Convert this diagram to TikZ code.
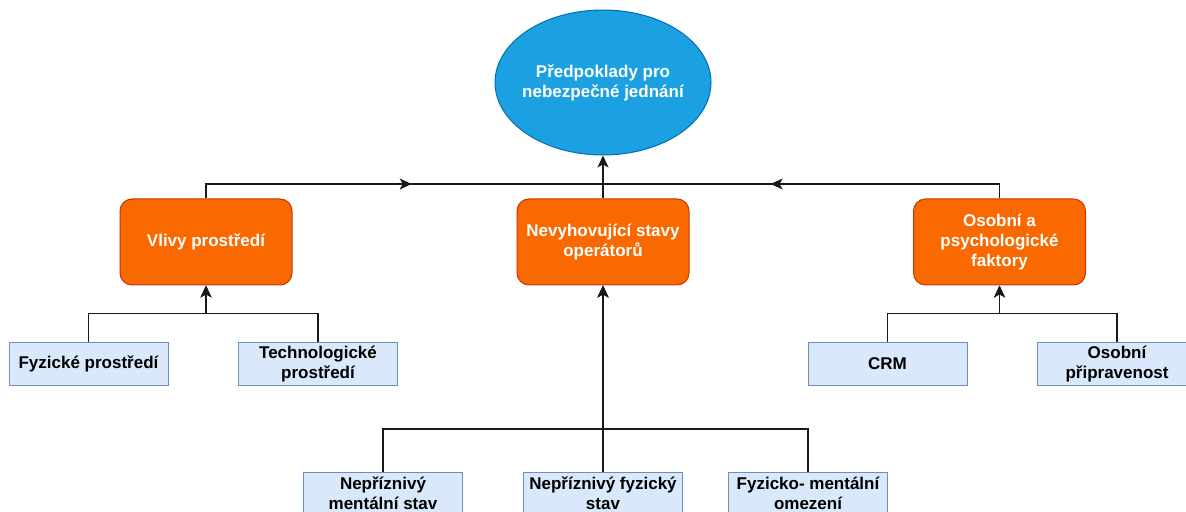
\documentclass[tikz,border=0pt]{standalone}
\usepackage{fontspec}
\setmainfont{Liberation Sans}
\usetikzlibrary{arrows.meta,decorations.markings,shapes.geometric}
\definecolor{orfill}{HTML}{FA6800}
\definecolor{ordraw}{HTML}{C73500}
\definecolor{blfill}{HTML}{DAE8FC}
\definecolor{bldraw}{HTML}{6C8EBF}
\definecolor{elfill}{HTML}{1BA1E2}
\definecolor{eldraw}{HTML}{006EAF}
\tikzset{
  base/.style={font=\fontsize{8.5pt}{10pt}\selectfont\bfseries, align=center, inner sep=0pt, line width=0.5pt},
  orbox/.style={base, rectangle, rounded corners=6pt, fill=orfill, draw=ordraw, text=white, minimum width=86pt, minimum height=43pt},
  blbox/.style={base, rectangle, fill=blfill, draw=bldraw, text=black, minimum width=79.5pt, minimum height=21.5pt},
  topell/.style={base, ellipse, fill=elfill, draw=eldraw, minimum width=108pt, minimum height=72.5pt},
  eltext/.style={base, text=white},
  conn/.style={line width=0.6pt, draw=black!90},
  arr/.style={conn, -{Stealth[length=6pt,width=5.5pt,inset=1.6pt]}},
  midarr/.style={conn, postaction={decorate}, decoration={markings, mark=at position #1 with {\arrow{Stealth[length=6pt,width=5.5pt,inset=1.6pt]}}}}
}
\begin{document}
\begin{tikzpicture}[x=0.5pt,y=-0.5pt]
\useasboundingbox (0,0) rectangle (1186,512);
\clip (0,0) rectangle (1186,512);
% top
\node[topell] (el) at (603,82.5) {};
\node[eltext] (elt) at (el.center) {Předpoklady pro\\nebezpečné jednání};
% middle
\node[orbox] (vp) at (206,242) {Vlivy prostředí};
\node[orbox] (np) at (603,242) {Nevyhovující stavy\\operátorů};
\node[orbox] (op) at (999.5,242) {Osobní a\\psychologické\\faktory};
% lower left/right
\node[blbox] (fp) at (88.5,364) {Fyzické prostředí};
\node[blbox] (tp) at (318,364) {Technologické\\prostředí};
\node[blbox] (crm) at (887.5,364) {CRM};
\node[blbox] (pp) at (1117,364) {Osobní\\připravenost};
% bottom
\node[blbox] (nm) at (383,493.5) {Nepříznivý\\mentální stav};
\node[blbox] (nf) at (603,493.5) {Nepříznivý fyzický\\stav};
\node[blbox] (fm) at (808,493.5) {Fyzicko- mentální\\omezení};
% bus coordinates
\coordinate (bt) at (603,184);
\coordinate (bl) at (206,313.5);
\coordinate (br) at (999.5,313.5);
\coordinate (bc) at (603,429);
% connectors to top
\draw[arr] (np.north) -- (el.south);
\draw[midarr=0.535] (vp.north) |- (bt);
\draw[midarr=0.592] (op.north) |- (bt);
% left group
\draw[arr] (fp.north) |- (bl) -- (vp.south);
\draw[arr] (tp.north) |- (bl) -- (vp.south);
% right group
\draw[arr] (crm.north) |- (br) -- (op.south);
\draw[arr] (pp.north) |- (br) -- (op.south);
% center group
\draw[arr] (nm.north) |- (bc) -- (np.south);
\draw[arr, line width=1.1pt] (nf.north) -- (np.south);
\draw[arr] (fm.north) |- (bc) -- (np.south);
\end{tikzpicture}
\end{document}
